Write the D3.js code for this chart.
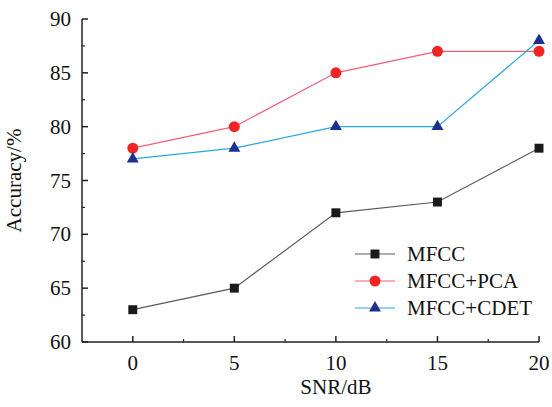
<!DOCTYPE html>
<html>
<head>
<meta charset="utf-8">
<script src="https://cdn.jsdelivr.net/npm/d3@7"></script>
<style>
  body { margin: 0; background: #fff; }
  text { font-family: "Liberation Serif", "Times New Roman", serif; }
</style>
</head>
<body>
<div id="chart"></div>
<script>
const snr = [0, 5, 10, 15, 20];
const mfcc = [63, 65, 72, 73, 78];
const mfccPca = [78, 80, 85, 87, 87];
const mfccCdet = [77, 78, 80, 80, 88];
const xTicks = [0, 5, 10, 15, 20];
const yTicks = [60, 65, 70, 75, 80, 85, 90];

const W = 552, H = 407;
const margin = {top: 19, right: 13, bottom: 65, left: 82},
    width = W - margin.left - margin.right,
    height = H - margin.top - margin.bottom;

const svg = d3.select("#chart").append("svg")
    .attr("width", W)
    .attr("height", H)
  .append("g")
    .attr("transform", `translate(${margin.left},${margin.top})`);

const x = d3.scaleLinear().domain([-2.5, 20]).range([0, width]);
const y = d3.scaleLinear().domain([60, 90]).range([height, 0]);

// minor ticks
const minorX = d3.range(0, 20.1, 2.5).filter(d => d % 5 !== 0);
const minorY = d3.range(62.5, 90, 5);

const axisCol = "#222";
const fs = "21px";

// x axis
const gx = svg.append("g").attr("transform", `translate(0,${height})`);
gx.append("line").attr("x1", 0).attr("x2", width).attr("stroke", axisCol).attr("stroke-width", 1.5);
gx.selectAll(".maj").data(xTicks).join("line")
  .attr("x1", d => x(d)).attr("x2", d => x(d)).attr("y1", 0).attr("y2", -6)
  .attr("stroke", axisCol).attr("stroke-width", 1.5);
gx.selectAll(".min").data(minorX).join("line")
  .attr("x1", d => x(d)).attr("x2", d => x(d)).attr("y1", 0).attr("y2", -3)
  .attr("stroke", axisCol).attr("stroke-width", 1.2);
gx.selectAll("text").data(xTicks).join("text")
  .attr("x", d => x(d)).attr("y", 28)
  .attr("text-anchor", "middle")
  .style("font-size", fs).attr("fill", "#111")
  .text(d => d);

// y axis
const gy = svg.append("g");
gy.append("line").attr("y1", 0).attr("y2", height).attr("stroke", axisCol).attr("stroke-width", 1.5);
gy.selectAll(".maj").data(yTicks).join("line")
  .attr("y1", d => y(d)).attr("y2", d => y(d)).attr("x1", 0).attr("x2", 6)
  .attr("stroke", axisCol).attr("stroke-width", 1.5);
gy.selectAll(".min").data(minorY).join("line")
  .attr("y1", d => y(d)).attr("y2", d => y(d)).attr("x1", 0).attr("x2", 3)
  .attr("stroke", axisCol).attr("stroke-width", 1.2);
gy.selectAll("text").data(yTicks).join("text")
  .attr("x", -11).attr("y", d => y(d) + 7)
  .attr("text-anchor", "end")
  .style("font-size", fs).attr("fill", "#111")
  .text(d => d);

// axis labels
svg.append("text")
  .attr("x", x(10)).attr("y", height + 52)
  .attr("text-anchor", "middle")
  .style("font-size", fs).attr("fill", "#111")
  .text("SNR/dB");
svg.append("text")
  .attr("transform", `translate(-61,${height / 2})rotate(-90)`)
  .attr("text-anchor", "middle")
  .style("font-size", fs).attr("fill", "#111")
  .text("Accuracy/%");

const series = [
  {name: "MFCC", values: mfcc, line: "#5a5a5a", fill: "#1a1a1a", shape: d3.symbolSquare, size: 80},
  {name: "MFCC+PCA", values: mfccPca, line: "#f0607a", fill: "#f02424", shape: d3.symbolCircle, size: 95},
  {name: "MFCC+CDET", values: mfccCdet, line: "#2ea6e0", fill: "#1f2f8f", shape: d3.symbolTriangle, size: 62}
];

const line = d3.line().x((d, i) => x(snr[i])).y(d => y(d));

series.forEach(s => {
  svg.append("path")
    .datum(s.values)
    .attr("fill", "none")
    .attr("stroke", s.line)
    .attr("stroke-width", 1.2)
    .attr("d", line);
});
series.forEach(s => {
  svg.selectAll(null).data(s.values).join("path")
    .attr("transform", (d, i) => `translate(${x(snr[i])},${y(d)})`)
    .attr("d", d3.symbol().type(s.shape).size(s.size))
    .attr("fill", s.fill);
});

// legend
const leg = svg.append("g").attr("transform", `translate(${355 - margin.left},${254 - margin.top})`);
series.forEach((s, i) => {
  const g = leg.append("g").attr("transform", `translate(0,${i * 27})`);
  g.append("line").attr("x1", 0).attr("x2", 40).attr("stroke", s.line).attr("stroke-width", 1.2);
  g.append("path").attr("transform", "translate(20,0)")
    .attr("d", d3.symbol().type(s.shape).size(s.size)).attr("fill", s.fill);
  g.append("text").attr("x", 52).attr("y", 7)
    .style("font-size", fs).attr("fill", "#111")
    .text(s.name);
});
</script>
</body>
</html>
